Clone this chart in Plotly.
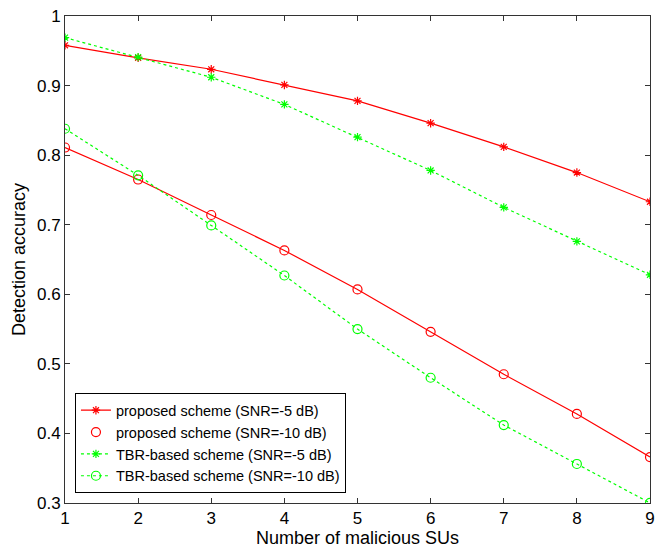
import plotly.graph_objects as go

x_vals = [1, 2, 3, 4, 5, 6, 7, 8, 9]
proposed_snr5 = [0.958, 0.940, 0.9235, 0.901, 0.878, 0.846, 0.812, 0.775, 0.733]
proposed_snr10 = [0.811, 0.765, 0.714, 0.663, 0.607, 0.546, 0.485, 0.428, 0.366]
tbr_snr5 = [0.969, 0.941, 0.912, 0.873, 0.826, 0.778, 0.725, 0.676, 0.628]
tbr_snr10 = [0.838, 0.771, 0.699, 0.627, 0.550, 0.480, 0.412, 0.356, 0.300]
x_ticks = [1, 2, 3, 4, 5, 6, 7, 8, 9]
y_ticks = [0.3, 0.4, 0.5, 0.6, 0.7, 0.8, 0.9, 1.0]
y_ticklabels = ["0.3", "0.4", "0.5", "0.6", "0.7", "0.8", "0.9", "1"]

RED = "#FF0000"
GREEN = "#00FF00"
FONT = "Liberation Sans, Arial, sans-serif"

fig = go.Figure()
fig.add_trace(go.Scatter(
    x=x_vals, y=proposed_snr5, mode="lines+markers",
    name="proposed scheme (SNR=-5 dB)",
    line=dict(color=RED, width=1.2),
    marker=dict(symbol="asterisk-open", size=7, color=RED, line=dict(color=RED, width=1.2)),
))
fig.add_trace(go.Scatter(
    x=x_vals, y=proposed_snr10, mode="lines",
    line=dict(color=RED, width=1.2), showlegend=False, hoverinfo="skip",
))
fig.add_trace(go.Scatter(
    x=x_vals, y=proposed_snr10, mode="markers",
    name="proposed scheme (SNR=-10 dB)",
    marker=dict(symbol="circle-open", size=9, color=RED, line=dict(color=RED, width=1.2)),
))
fig.add_trace(go.Scatter(
    x=x_vals, y=tbr_snr5, mode="lines+markers",
    name="TBR-based scheme (SNR=-5 dB)",
    line=dict(color=GREEN, width=1.2, dash="dot"),
    marker=dict(symbol="asterisk-open", size=7, color=GREEN, line=dict(color=GREEN, width=1.2)),
))
fig.add_trace(go.Scatter(
    x=x_vals, y=tbr_snr10, mode="lines+markers",
    name="TBR-based scheme (SNR=-10 dB)",
    line=dict(color=GREEN, width=1.2, dash="dot"),
    marker=dict(symbol="circle-open", size=9, color=GREEN, line=dict(color=GREEN, width=1.2)),
))

axis_common = dict(
    showgrid=False, zeroline=False, showline=True, linecolor="#333333", linewidth=1,
    mirror="ticks", ticks="inside", ticklen=5, tickcolor="#333333",
    tickfont=dict(family=FONT, size=17, color="#000000"),
    automargin=False, ticklabeloverflow="allow",
)

# page body has an 8px margin, so the figure is sized/offset to compensate
fig.update_layout(
    width=656, height=545,
    margin=dict(l=57, r=14, t=8, b=50),
    paper_bgcolor="white", plot_bgcolor="white",
    font=dict(family=FONT, color="#000000"),
    xaxis=dict(range=[0.9999, 9.0001], tickvals=x_ticks,
               title=dict(text="Number of malicious SUs", font=dict(family=FONT, size=18), standoff=2),
               **axis_common),
    yaxis=dict(range=[0.2999, 1.0001], tickvals=y_ticks, ticktext=y_ticklabels,
               title=dict(text="Detection accuracy", font=dict(family=FONT, size=18), standoff=6),
               **axis_common),
    legend=dict(x=0.017, y=0.02, xanchor="left", yanchor="bottom",
                bgcolor="white", bordercolor="#000000", borderwidth=1,
                font=dict(family=FONT, size=14.5), tracegroupgap=0, itemwidth=30),
)

fig.write_html("out.html")
